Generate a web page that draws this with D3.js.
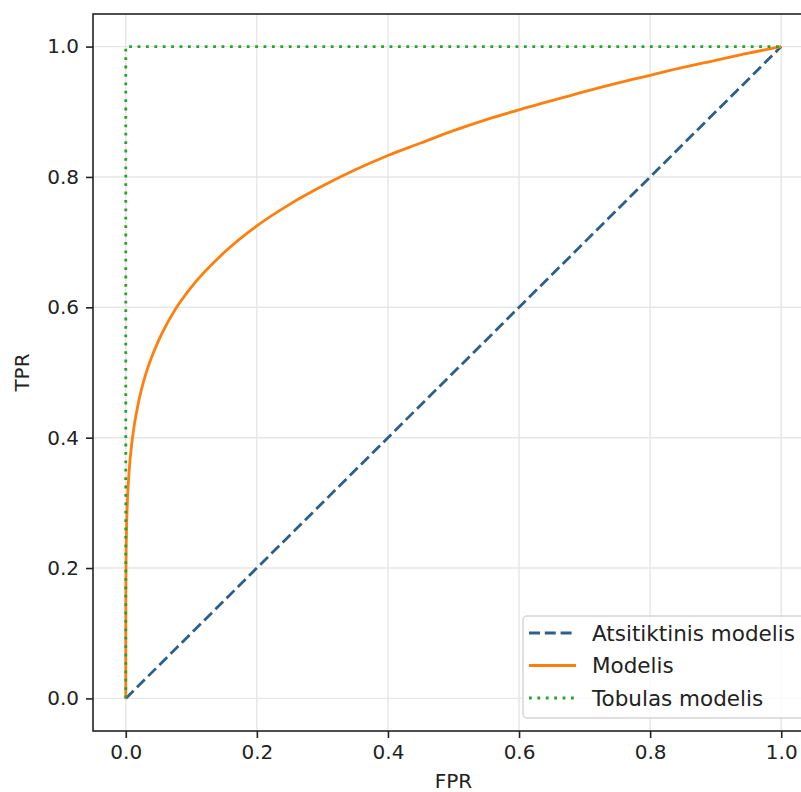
<!DOCTYPE html>
<html>
<head>
<meta charset="utf-8">
<script src="https://cdn.jsdelivr.net/npm/d3@7"></script>
<style>
  body { margin: 0; background: #fff; }
  text { font-family: "DejaVu Sans", sans-serif; fill: #222; }
</style>
</head>
<body>
<div id="graph"></div>
<script>

// data
var randomFPR = [0, 1];
var randomTPR = [0, 1];

var modelFPR = [0, 0.000001, 0.00001, 0.0001, 0.0005, 0.001, 0.002, 0.005, 0.01, 0.02, 0.03, 0.04, 0.05, 0.075,
                0.1, 0.15, 0.2, 0.25, 0.3, 0.35, 0.4, 0.45, 0.5, 0.55, 0.6, 0.65, 0.7, 0.75, 0.8, 0.85, 0.9, 0.95, 1.0];
var modelTPR = [0, 0.063, 0.1, 0.158, 0.218, 0.251, 0.289, 0.347, 0.398, 0.457, 0.496, 0.525, 0.549, 0.596,
                0.631, 0.684, 0.725, 0.758, 0.786, 0.811, 0.833, 0.852, 0.871, 0.888, 0.903, 0.917, 0.931, 0.944, 0.956, 0.968, 0.979, 0.990, 1.0];

var perfectFPR = [0, 0, 1];
var perfectTPR = [0, 1, 1];

var tickValues = [0.0, 0.2, 0.4, 0.6, 0.8, 1.0];
var seriesNames = ["Atsitiktinis modelis", "Modelis", "Tobulas modelis"];

// set the dimensions and margins of the graph
var margin = {top: 14, right: 0, bottom: 61, left: 93},
    width = 721,
    height = 717;

var svg = d3.select("#graph")
  .append("svg")
    .attr("width", 801)
    .attr("height", 792)
  .append("g")
    .attr("transform", "translate(" + margin.left + "," + margin.top + ")");

var x = d3.scaleLinear().domain([-0.05, 1.05]).range([0, width]);
var y = d3.scaleLinear().domain([-0.05, 1.05]).range([height, 0]);

// grid
svg.append("g")
  .selectAll("line.vg")
  .data(tickValues)
  .enter().append("line")
    .attr("x1", function(d) { return x(d); })
    .attr("x2", function(d) { return x(d); })
    .attr("y1", 0).attr("y2", height)
    .attr("stroke", "#e6e6e6").attr("stroke-width", 1.4);
svg.append("g")
  .selectAll("line.hg")
  .data(tickValues)
  .enter().append("line")
    .attr("y1", function(d) { return y(d); })
    .attr("y2", function(d) { return y(d); })
    .attr("x1", 0).attr("x2", width)
    .attr("stroke", "#e6e6e6").attr("stroke-width", 1.4);

// axes
var xAxis = svg.append("g")
  .attr("transform", "translate(0," + height + ")")
  .call(d3.axisBottom(x).tickValues(tickValues).tickFormat(d3.format(".1f")).tickSize(7).tickPadding(7));
var yAxis = svg.append("g")
  .call(d3.axisLeft(y).tickValues(tickValues).tickFormat(d3.format(".1f")).tickSize(7).tickPadding(7));

[xAxis, yAxis].forEach(function(a) {
  a.select(".domain").remove();
  a.selectAll("line").attr("stroke", "#222").attr("stroke-width", 1.6);
  a.selectAll("text").style("font-size", "20px").attr("fill", "#222")
    .style("font-family", "'DejaVu Sans', sans-serif");
});

// frame
svg.append("rect")
  .attr("x", 0).attr("y", 0)
  .attr("width", width).attr("height", height)
  .attr("fill", "none").attr("stroke", "#222").attr("stroke-width", 1.6);

// lines
var line = d3.line()
  .x(function(d) { return x(d[0]); })
  .y(function(d) { return y(d[1]); });

var smooth = d3.line()
  .curve(d3.curveMonotoneX)
  .x(function(d) { return x(d[0]); })
  .y(function(d) { return y(d[1]); });

svg.append("path")
  .datum(d3.zip(randomFPR, randomTPR))
  .attr("d", line)
  .attr("fill", "none")
  .attr("stroke", "#2c5f8a")
  .attr("stroke-width", 2.8)
  .attr("stroke-dasharray", "11,4.8");

svg.append("path")
  .datum(d3.zip(modelFPR, modelTPR))
  .attr("d", smooth)
  .attr("fill", "none")
  .attr("stroke", "#ff7f0e")
  .attr("stroke-width", 2.8)
  .attr("stroke-linejoin", "round");

svg.append("path")
  .datum(d3.zip(perfectFPR, perfectTPR))
  .attr("d", line)
  .attr("fill", "none")
  .attr("stroke", "#2ca02c")
  .attr("stroke-width", 2.8)
  .attr("stroke-dasharray", "2.8,5.6");

// axis labels
svg.append("text")
  .attr("x", width / 2)
  .attr("y", height + 57)
  .attr("text-anchor", "middle")
  .style("font-size", "20px")
  .text("FPR");

svg.append("text")
  .attr("transform", "translate(" + (-64) + "," + (height / 2) + ") rotate(-90)")
  .attr("text-anchor", "middle")
  .style("font-size", "20px")
  .text("TPR");

// legend
var lg = svg.append("g").attr("transform", "translate(" + (523 - margin.left) + "," + (616 - margin.top) + ")");
lg.append("rect")
  .attr("width", 283).attr("height", 102).attr("rx", 4)
  .attr("fill", "#fff").attr("fill-opacity", 0.8)
  .attr("stroke", "#d4d4d4").attr("stroke-width", 1.4);

var styles = [
  {color: "#2c5f8a", dash: "11,4.8"},
  {color: "#ff7f0e", dash: null},
  {color: "#2ca02c", dash: "2.8,5.6"}
];

seriesNames.forEach(function(name, i) {
  var cy = 17 + i * 32.5;
  lg.append("line")
    .attr("x1", 6).attr("x2", 53)
    .attr("y1", cy).attr("y2", cy)
    .attr("stroke", styles[i].color)
    .attr("stroke-width", 2.8)
    .attr("stroke-dasharray", styles[i].dash);
  lg.append("text")
    .attr("x", 69).attr("y", cy)
    .attr("dy", "0.35em")
    .style("font-size", "21.5px")
    .text(name);
});

</script>
</body>
</html>
